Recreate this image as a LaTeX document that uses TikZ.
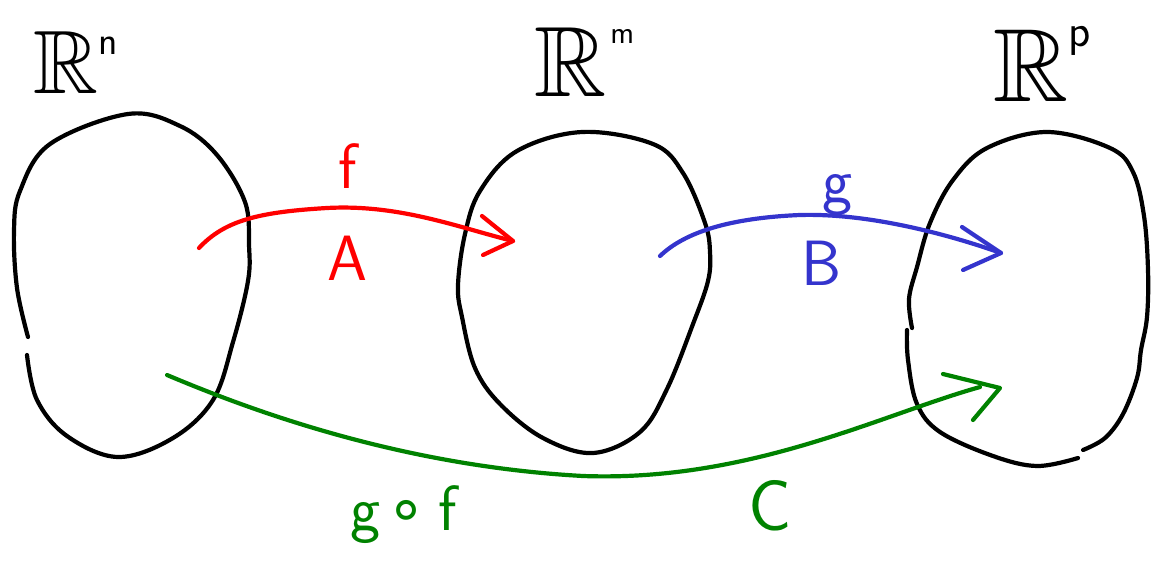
\documentclass[tikz,border=0pt]{standalone}
\usepackage{amssymb}
\usepackage{fontspec}
\newfontfamily\dejavu{DejaVu Sans}
\definecolor{myred}{RGB}{255,0,0}
\definecolor{myblue}{RGB}{52,52,205}
\definecolor{mygreen}{RGB}{0,130,0}
\newcommand{\supsize}[1]{\fontsize{#1}{#1}\selectfont\sffamily}
\tikzset{
  pen/.style={line width=4.2pt, line cap=round, line join=round},
  blob/.style={pen, black},
  space/.style={inner sep=0pt, anchor=base west},
  lbl/.style={font=\fontsize{64}{64}\selectfont\sffamily, inner sep=0pt},
}
\begin{document}
\begin{tikzpicture}[x=1pt,y=-1pt]
\useasboundingbox (0,0) rectangle (1153,565);
% blobs
\draw[blob] plot[smooth, tension=0.6] coordinates {(28,337) (17,288) (14,231) (20,191) (50,144) (128,114) (180,126) (217,155) (245,202) (249,245) (248,281) (233,342) (213,400) (173,438) (118,457) (67,436) (37,400) (27,355)};
\draw[blob] plot[smooth cycle, tension=0.6] coordinates {(582,132) (653,144) (683,173) (705,223) (710,252) (708,281) (693,324) (667,389) (640,432) (593,453) (543,438) (500,404) (475,368) (462,317) (458,285) (465,234) (480,191) (517,151)};
\draw[blob] plot[smooth, tension=0.6] coordinates {(1083,450) (1105,438) (1123,414) (1137,378) (1141,350) (1147,317) (1148,270) (1144,216) (1133,172) (1110,148) (1047,132) (987,148) (953,180) (930,223) (917,267) (909,299) (912,328)};
\draw[blob] plot[smooth, tension=0.6] coordinates {(907,330) (908,360) (917,404) (940,432) (993,456) (1037,466) (1078,458)};
% space labels
\node[space, font=\fontsize{90}{90}\selectfont] (Rn) at (33,93) {$\mathbb{R}$\hspace{0pt}\raisebox{39pt}{\supsize{40}n}};
\node[space, font=\fontsize{100}{100}\selectfont] (Rm) at (534,96) {$\mathbb{R}$\hspace{4pt}\raisebox{53pt}{\supsize{32}m}};
\node[space, font=\fontsize{104}{104}\selectfont] (Rp) at (993,101) {$\mathbb{R}$\hspace{0pt}\raisebox{55pt}{\supsize{46}p}};
% arrow end points
\coordinate (fs) at (199,248);
\coordinate (fm) at (327,208);
\coordinate (ft) at (513,241);
\coordinate (gs) at (660,256);
\coordinate (gm) at (800,215);
\coordinate (gt) at (1001,253);
\coordinate (cs) at (167,375);
\coordinate (cm) at (583,476);
\coordinate (ct) at (980,387);
\coordinate (ctip) at (1000,388);
% red f
\draw[pen, myred] (fs) .. controls (225,220) and (260,212) .. (fm) .. controls (400,204) and (460,228) .. (ft);
\draw[pen, myred] (ft) ++(-31,-25) -- (ft) -- ++(-30,14);
% blue g
\draw[pen, myblue] (gs) .. controls (685,232) and (730,218) .. (gm) .. controls (870,213) and (950,235) .. (gt);
\draw[pen, myblue] (gt) ++(-39,-26) -- (gt) -- ++(-38,17);
% green gof
\draw[pen, mygreen] (cs) .. controls (250,410) and (400,466) .. (cm) .. controls (750,482) and (880,415) .. (ct);
\draw[pen, mygreen] (ctip) ++(-57,-14) -- (ctip) -- ++(-27,32);
% labels
\node[lbl, text=myred] (lf) at (348,166) {f};
\node[lbl, text=myred] (lA) at (347,258) {A};
\node[lbl, text=myblue, anchor=base] (lg) at (838,202) {g};
\node[lbl, text=myblue] (lB) at (822,263) {B};
\node[lbl, text=mygreen, anchor=base west] (lgf) at (350,530) {g\hspace{6pt}{\dejavu ∘}\hspace{12pt}f};
\node[lbl, text=mygreen, font=\fontsize{72}{72}\selectfont\sffamily] (lC) at (770,506) {C};
\end{tikzpicture}
\end{document}
